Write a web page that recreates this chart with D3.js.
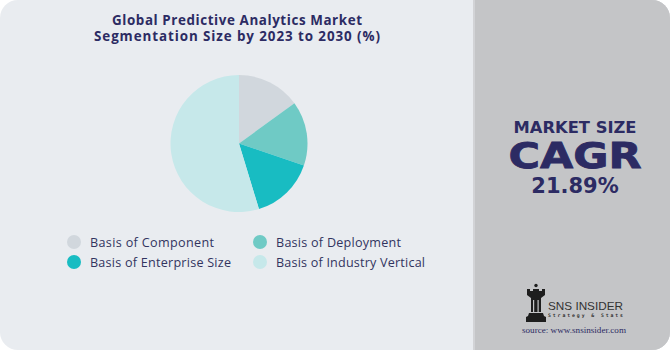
<!DOCTYPE html>
<html><head><meta charset="utf-8">
<script src="https://cdn.jsdelivr.net/npm/d3@7"></script>
<style>html,body{margin:0;padding:0;background:#fff;}svg{display:block;}</style>
</head><body>
<svg id="chart" width="670" height="350"></svg>
<script>
const titleLines = ["Global Predictive Analytics Market", "Segmentation Size by 2023 to 2030 (%)"];
const categories = ["Basis of Component", "Basis of Deployment", "Basis of Enterprise Size", "Basis of Industry Vertical"];
const values = [15, 15.2, 15.1, 54.7];
const colors = ["#d1d7dd", "#6fcac5", "#18bcc2", "#c6e8ea"];
const cagrLabel = "MARKET SIZE";
const cagrTitle = "CAGR";
const cagrValue = "21.89%";
const brand = "SNS INSIDER";
const brandSub = "Strategy & Stats";
const sourceText = "source: www.snsinsider.com";

const svg = d3.select("#chart");
const W = 670, H = 350, R = 18;
const navy = "#2c2b63";

// card clip
svg.append("defs").append("clipPath").attr("id","card")
  .append("rect").attr("x",0).attr("y",0).attr("width",W).attr("height",H).attr("rx",R).attr("ry",R);
const g = svg.append("g").attr("clip-path","url(#card)");
g.append("rect").attr("x",0).attr("y",0).attr("width",W).attr("height",H).attr("fill","#e9ecf0");
g.append("rect").attr("x",473).attr("y",0).attr("width",W-473).attr("height",H).attr("fill","#d2d3d6");
g.append("rect").attr("x",475).attr("y",0).attr("width",W-475).attr("height",H).attr("fill","#c4c5c7");

// title
const title = svg.append("text").attr("text-anchor","middle")
  .attr("font-family","'Open Sans', sans-serif").attr("font-weight",700).attr("font-size",13.4).attr("fill",navy);
const titleW = [250, 286];
titleLines.forEach((t,i)=>title.append("tspan").attr("x",237).attr("y",24.5+i*16.5)
  .attr("textLength",titleW[i]).attr("lengthAdjust","spacing").text(t));

// pie
const cx = 239, cy = 143.5, radius = 68.5;
const pie = d3.pie().sort(null).value(d=>d)(values);
const arc = d3.arc().innerRadius(0).outerRadius(radius);
svg.append("g").attr("transform",`translate(${cx},${cy})`)
  .selectAll("path").data(pie).join("path")
  .attr("d",arc).attr("fill",(d,i)=>colors[i]);

// legend
const lx = [74, 260], ly = [242, 262];
const legW = [124, 125, 141, 149];
const leg = svg.append("g");
categories.forEach((c,i)=>{
  const col = i%2, row = Math.floor(i/2);
  leg.append("circle").attr("cx",lx[col]).attr("cy",ly[row]).attr("r",7).attr("fill",colors[i]);
  leg.append("text").attr("x",lx[col]+16).attr("y",ly[row]+4.5)
    .attr("font-family","'Open Sans', sans-serif").attr("font-size",12.6).attr("fill","#32345f")
    .attr("textLength",legW[i]).attr("lengthAdjust","spacing").text(c);
});

// right panel
const rx = 575;
svg.append("text").attr("x",rx).attr("y",133).attr("text-anchor","middle")
  .attr("font-family","'DejaVu Sans', sans-serif").attr("font-weight",700).attr("font-size",15.5)
  .attr("textLength",123).attr("lengthAdjust","spacingAndGlyphs")
  .attr("fill",navy).text(cagrLabel);
svg.append("text").attr("x",rx).attr("y",168).attr("text-anchor","middle")
  .attr("font-family","'DejaVu Sans', sans-serif").attr("font-weight",700).attr("font-size",35)
  .attr("textLength",133).attr("lengthAdjust","spacingAndGlyphs")
  .attr("stroke",navy).attr("stroke-width",0.8)
  .attr("fill",navy).text(cagrTitle);
svg.append("text").attr("x",rx).attr("y",193).attr("text-anchor","middle")
  .attr("font-family","'DejaVu Sans', sans-serif").attr("font-weight",700).attr("font-size",21)
  .attr("fill",navy).text(cagrValue);

// logo (rook)
const logo = svg.append("g").attr("fill","#1e1e1e");
logo.append("circle").attr("cx",536).attr("cy",285.5).attr("r",1.7);
logo.append("path").attr("d","M527,289 L530,289 L530,291 L533,291 L533,289 L539,289 L539,291 L542,291 L542,289 L545,289 L545,295 L541,298 L541,312 L531,312 L531,298 L527,295 Z");
logo.append("path").attr("d","M529,313 L543,313 L544,316 L546,317 L546,322 L526,322 L526,317 L528,316 Z");
logo.append("rect").attr("x",533).attr("y",300).attr("width",1.2).attr("height",12).attr("fill","#c4c5c7");
logo.append("rect").attr("x",537.5).attr("y",300).attr("width",1.2).attr("height",12).attr("fill","#c4c5c7");
svg.append("text").attr("x",548).attr("y",309.5).attr("font-family","'Liberation Sans', sans-serif")
  .attr("font-size",11.5).attr("textLength",75).attr("lengthAdjust","spacingAndGlyphs")
  .attr("fill","#333").text(brand);
svg.append("text").attr("x",548).attr("y",316.5).attr("font-family","'DejaVu Sans Mono', monospace")
  .attr("font-size",4.8).attr("font-weight",700).attr("textLength",75).attr("lengthAdjust","spacing")
  .attr("fill","#333").text(brandSub);
svg.append("text").attr("x",574).attr("y",333).attr("text-anchor","middle").attr("font-family","'Liberation Serif', serif")
  .attr("font-size",8.6).attr("textLength",104).attr("lengthAdjust","spacingAndGlyphs")
  .attr("fill","#2c2b63").text(sourceText);
</script>
</body></html>
